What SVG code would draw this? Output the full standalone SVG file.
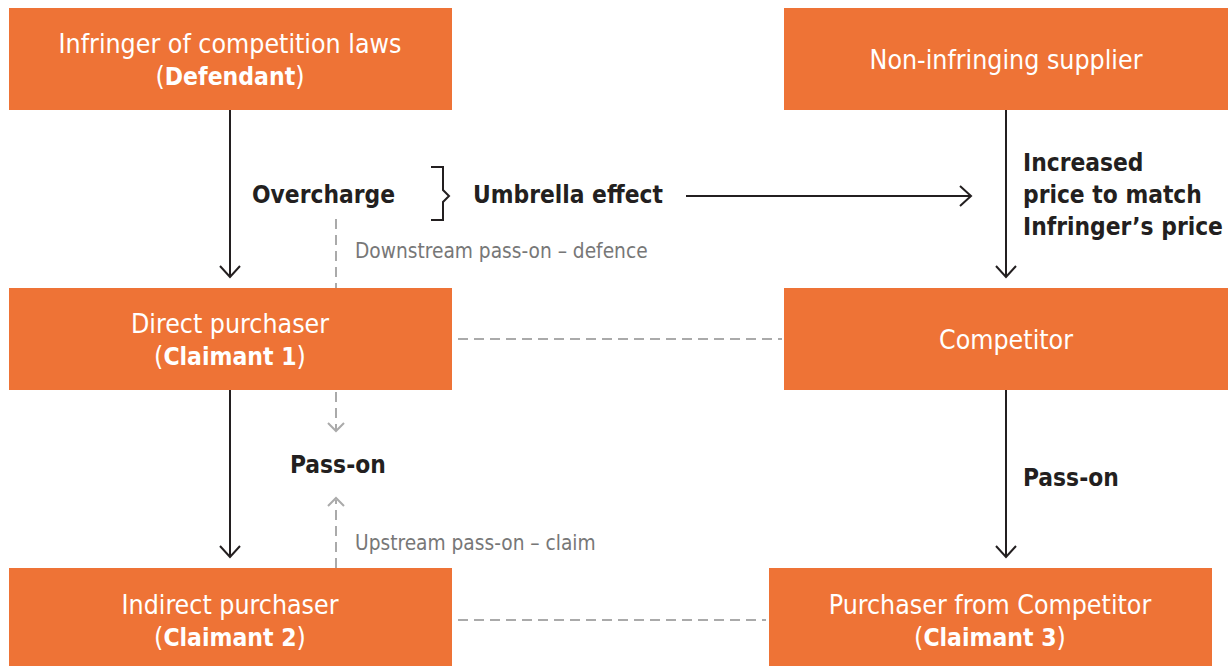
<svg xmlns="http://www.w3.org/2000/svg" width="1229" height="666" viewBox="0 0 1229 666">
<defs>
<style>
.box{fill:#EE7336}
.bt{font-family:"DejaVu Sans Condensed","DejaVu Sans",sans-serif;font-size:26.5px;fill:#fff;text-anchor:middle}
.b{font-weight:bold;font-size:24.5px}
.lab{font-family:"DejaVu Sans Condensed","DejaVu Sans",sans-serif;font-size:24.3px;font-weight:bold;fill:#231F20}
.gl{font-family:"DejaVu Sans Condensed","DejaVu Sans",sans-serif;font-size:20.7px;fill:#777}
.solid{stroke:#231F20;stroke-width:2;fill:none}
.dash{stroke:#aaa;stroke-width:2;fill:none;stroke-dasharray:10 6}
.ah{stroke:#231F20;stroke-width:2;fill:none}
.gah{stroke:#aaa;stroke-width:2;fill:none}
</style>
</defs>
<g id="n-defendant"><rect class="box" x="9" y="8" width="443" height="102"/>
<text class="bt" x="230" y="53">Infringer of competition laws</text>
<text class="bt" x="230" y="85">(<tspan class="b">Defendant</tspan>)</text></g>
<g id="n-supplier"><rect class="box" x="784" y="8" width="444" height="102"/>
<text class="bt" x="1006" y="69">Non-infringing supplier</text></g>
<g id="n-direct"><rect class="box" x="9" y="288" width="443" height="102"/>
<text class="bt" x="230" y="333">Direct purchaser</text>
<text class="bt" x="230" y="365">(<tspan class="b">Claimant 1</tspan>)</text></g>
<g id="n-competitor"><rect class="box" x="784" y="288" width="444" height="102"/>
<text class="bt" x="1006" y="349">Competitor</text></g>
<g id="n-indirect"><rect class="box" x="9" y="568" width="443" height="98"/>
<text class="bt" x="230" y="614">Indirect purchaser</text>
<text class="bt" x="230" y="646">(<tspan class="b">Claimant 2</tspan>)</text></g>
<g id="n-purchaser3"><rect class="box" x="769" y="568" width="443" height="98"/>
<text class="bt" x="990" y="614">Purchaser from Competitor</text>
<text class="bt" x="990" y="646">(<tspan class="b">Claimant 3</tspan>)</text></g>
<g id="connectors">
<line class="solid" x1="230" y1="110" x2="230" y2="277"/>
<polyline class="ah" points="220,266 230,277 240,266"/>
<line class="solid" x1="230" y1="390" x2="230" y2="557"/>
<polyline class="ah" points="220,546 230,557 240,546"/>
<line class="solid" x1="1006" y1="110" x2="1006" y2="277"/>
<polyline class="ah" points="996,266 1006,277 1016,266"/>
<line class="solid" x1="1006" y1="390" x2="1006" y2="557"/>
<polyline class="ah" points="996,546 1006,557 1016,546"/>
<line class="solid" x1="686" y1="196" x2="971" y2="196"/>
<polyline class="ah" points="960,186 971,196 960,206"/>
<polyline class="solid" points="431,167 443,167 443,190 449,196 443,202 443,220 431,220"/>
<line class="dash" x1="336" y1="219" x2="336" y2="288"/>
<line class="dash" x1="336" y1="392" x2="336" y2="430"/>
<polyline class="gah" points="328,423 336,431 344,423"/>
<line class="dash" x1="336" y1="568" x2="336" y2="500"/>
<polyline class="gah" points="328,506 336,498 344,506"/>
<line class="dash" x1="458" y1="339" x2="782" y2="339"/>
<line class="dash" x1="458" y1="620" x2="766" y2="620"/>
</g>
<g id="labels">
<text class="lab" x="252" y="203">Overcharge</text>
<text class="lab" x="473" y="203">Umbrella effect</text>
<text class="lab" x="1023" y="171">Increased</text>
<text class="lab" x="1023" y="203">price to match</text>
<text class="lab" x="1023" y="235">Infringer’s price</text>
<text class="lab" x="290" y="473">Pass-on</text>
<text class="lab" x="1023" y="486">Pass-on</text>
<text class="gl" x="355" y="258">Downstream pass-on – defence</text>
<text class="gl" x="355" y="550">Upstream pass-on – claim</text>
</g>
</svg>
